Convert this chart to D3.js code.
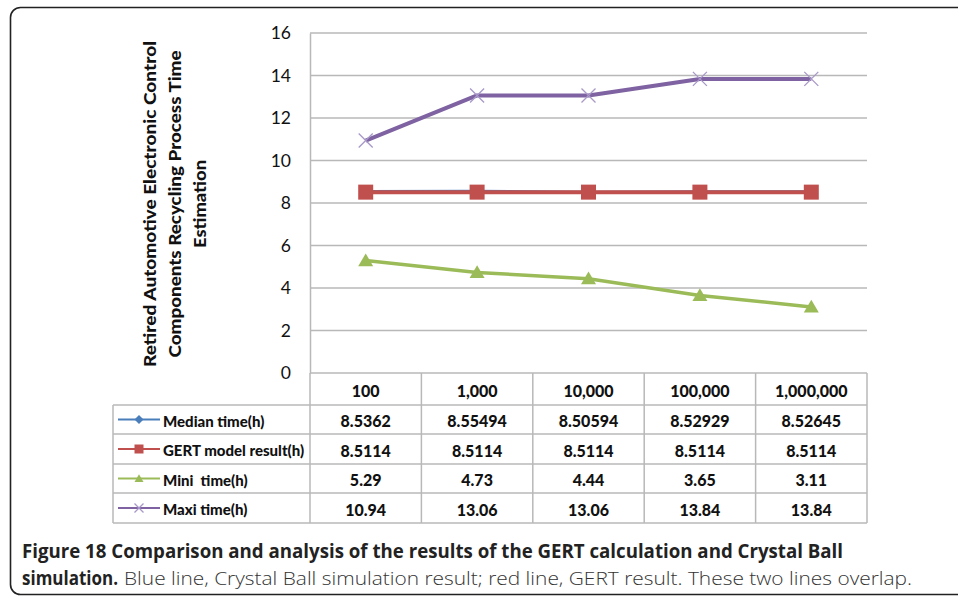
<!DOCTYPE html>
<html><head><meta charset="utf-8">
<script src="https://cdn.jsdelivr.net/npm/d3@7"></script>
<style>
html,body{margin:0;padding:0;background:#fff;}
svg{display:block;}
text{white-space:pre;}
</style></head>
<body>
<svg id="chart" width="958" height="596"></svg>
<script>
// ---- data ----
const categories = ["100", "1,000", "10,000", "100,000", "1,000,000"];
const seriesNames = ["Median time(h)", "GERT model result(h)", "Mini  time(h)", "Maxi time(h)"];
const medianValues = [8.5362, 8.55494, 8.50594, 8.52929, 8.52645];
const gertValues = [8.5114, 8.5114, 8.5114, 8.5114, 8.5114];
const miniValues = [5.29, 4.73, 4.44, 3.65, 3.11];
const maxiValues = [10.94, 13.06, 13.06, 13.84, 13.84];
const medianLabels = ["8.5362", "8.55494", "8.50594", "8.52929", "8.52645"];
const gertLabels = ["8.5114", "8.5114", "8.5114", "8.5114", "8.5114"];
const miniLabels = ["5.29", "4.73", "4.44", "3.65", "3.11"];
const maxiLabels = ["10.94", "13.06", "13.06", "13.84", "13.84"];
const yTicks = [0, 2, 4, 6, 8, 10, 12, 14, 16];
const yTitleLines = ["Retired Automotive Electronic Control", "Components Recycling Process Time", "Estimation"];
const captionBold1 = "Figure 18 Comparison and analysis of the results of the GERT calculation and Crystal Ball";
const captionBold2 = "simulation.";
const captionRegular = "Blue line, Crystal Ball simulation result; red line, GERT result. These two lines overlap.";

// ---- layout ----
const svg = d3.select("#chart");
const plotL = 310, plotR = 867, plotT = 33, plotB = 373;
const tableL = 113;
const rowH = [405, 434, 464, 493, 523];
const gridColor = "#b8b8b8";
const fontMain = "Lato, 'Noto Sans', sans-serif";

const x = d3.scaleBand().domain(categories).range([plotL, plotR]);
const y = d3.scaleLinear().domain([0, 16]).range([plotB, plotT]);

const series = [
  {name: seriesNames[0], values: medianValues, labels: medianLabels, color: "#4a7ebb", marker: "diamond", width: 3},
  {name: seriesNames[1], values: gertValues, labels: gertLabels, color: "#c0504d", marker: "square", width: 4},
  {name: seriesNames[2], values: miniValues, labels: miniLabels, color: "#9bbb59", marker: "triangle", width: 3.5},
  {name: seriesNames[3], values: maxiValues, labels: maxiLabels, color: "#7e62a1", marker: "x", width: 4}
];

// frame
svg.append("rect").attr("x", 10.5).attr("y", 7.5).attr("width", 1000).attr("height", 587)
  .attr("rx", 10).attr("fill", "none").attr("stroke", "#222").attr("stroke-width", 1.6);

// gridlines
svg.append("g").selectAll("line").data(yTicks.filter(d => d > 0)).join("line")
  .attr("x1", plotL).attr("x2", plotR)
  .attr("y1", d => y(d)).attr("y2", d => y(d))
  .attr("stroke", gridColor).attr("stroke-width", 1.5);

// y axis via d3
const yAxis = d3.axisLeft(y).tickValues(yTicks).tickSize(0).tickPadding(19).tickFormat(d3.format("d"));
const gy = svg.append("g").attr("transform", `translate(${plotL},0)`).call(yAxis);
gy.select(".domain").attr("stroke", gridColor).attr("stroke-width", 1.5);
gy.selectAll("text").attr("font-family", fontMain).attr("font-size", 17.5).attr("fill", "#111");

// y title
const yt = svg.append("g").attr("font-family", fontMain).attr("font-weight", 900).attr("font-size", 16.5).attr("fill", "#111");
const titleCenters = [150, 175, 200];
const titleLens = [326, 307, 88];
yTitleLines.forEach((t, i) => {
  yt.append("text").attr("transform", `translate(${titleCenters[i]},204) rotate(-90)`)
    .attr("text-anchor", "middle").attr("dominant-baseline", "central")
    .attr("textLength", titleLens[i]).attr("lengthAdjust", "spacingAndGlyphs").text(t);
});

// table lines
const tg = svg.append("g").attr("stroke", gridColor).attr("stroke-width", 1.5);
tg.append("line").attr("x1", plotL).attr("x2", plotR).attr("y1", plotB).attr("y2", plotB);
rowH.forEach(r => tg.append("line").attr("x1", tableL).attr("x2", plotR).attr("y1", r).attr("y2", r));
tg.append("line").attr("x1", tableL).attr("x2", tableL).attr("y1", rowH[0]).attr("y2", rowH[4]);
tg.append("line").attr("x1", plotL).attr("x2", plotL).attr("y1", plotB).attr("y2", rowH[4]);
categories.forEach(c => {
  const xe = x(c) + x.bandwidth();
  tg.append("line").attr("x1", xe).attr("x2", xe).attr("y1", plotB).attr("y2", rowH[4]);
});

// table text
const tt = svg.append("g").attr("font-family", fontMain).attr("font-weight", 900).attr("font-size", 16).attr("fill", "#111")
  .attr("text-anchor", "middle").attr("dominant-baseline", "central");
categories.forEach(c => tt.append("text").attr("x", x(c) + x.bandwidth() / 2).attr("y", (plotB + rowH[0]) / 2 + 1).text(c));
series.forEach((s, si) => {
  const cy = (rowH[si] + rowH[si + 1]) / 2 + 1;
  s.labels.forEach((l, i) => tt.append("text").attr("x", x(categories[i]) + x.bandwidth() / 2).attr("y", cy).text(l));
});

// marker drawing
function drawMarker(g, type, cx, cy, size, color, light) {
  if (type === "square") {
    g.append("rect").attr("x", cx - size / 2).attr("y", cy - size / 2).attr("width", size).attr("height", size).attr("fill", color);
  } else if (type === "diamond") {
    const h = size / 2;
    g.append("path").attr("d", `M${cx},${cy - h}L${cx + h},${cy}L${cx},${cy + h}L${cx - h},${cy}Z`).attr("fill", color);
  } else if (type === "triangle") {
    const h = size / 2;
    g.append("path").attr("d", `M${cx},${cy - h * 0.95}L${cx + h},${cy + h * 0.75}L${cx - h},${cy + h * 0.75}Z`).attr("fill", color);
  } else if (type === "x") {
    const h = size / 2;
    g.append("path").attr("d", `M${cx - h},${cy - h}L${cx + h},${cy + h}M${cx - h},${cy + h}L${cx + h},${cy - h}`)
      .attr("stroke", light).attr("stroke-width", 1.3).attr("fill", "none");
  }
}

// legend rows
const lg = svg.append("g");
series.forEach((s, si) => {
  const cy = (rowH[si] + rowH[si + 1]) / 2;
  lg.append("line").attr("x1", 118).attr("x2", 160).attr("y1", cy).attr("y2", cy).attr("stroke", s.color).attr("stroke-width", 2);
  drawMarker(lg, s.marker, 139, cy, 9, s.color, "#a898c8");
  lg.append("text").attr("x", 163).attr("y", cy + 1).attr("dominant-baseline", "central")
    .attr("font-family", fontMain).attr("font-weight", 900).attr("font-size", 15).attr("fill", "#111").text(s.name);
});

// lines
const line = d3.line().x((d, i) => x(categories[i]) + x.bandwidth() / 2).y(d => y(d));
const lines = svg.append("g");
series.forEach(s => {
  const g = lines.append("g");
  g.append("path").datum(s.values).attr("d", line).attr("fill", "none").attr("stroke", s.color)
    .attr("stroke-width", s.width).attr("stroke-linejoin", "round");
  s.values.forEach((v, i) => {
    const size = s.marker === "x" ? 14 : s.marker === "triangle" ? 15 : s.marker === "diamond" ? 12 : 15;
    drawMarker(g, s.marker, x(categories[i]) + x.bandwidth() / 2, y(v), size, s.color, "#a898c8");
  });
});

// caption
const cap = svg.append("g").attr("fill", "#222");
cap.append("text").attr("x", 22).attr("y", 558).attr("font-family", "'Open Sans', sans-serif").attr("font-weight", "bold")
  .attr("font-size", 19).attr("textLength", 821).attr("lengthAdjust", "spacingAndGlyphs").text(captionBold1);
cap.append("text").attr("x", 22).attr("y", 585).attr("font-family", "'Open Sans', sans-serif").attr("font-weight", "bold")
  .attr("font-size", 19).attr("textLength", 96).attr("lengthAdjust", "spacingAndGlyphs").text(captionBold2);
cap.append("text").attr("x", 124).attr("y", 585).attr("font-family", "'Open Sans', sans-serif").attr("font-weight", 300)
  .attr("font-size", 19).attr("fill", "#333").attr("textLength", 788).attr("lengthAdjust", "spacingAndGlyphs").text(captionRegular);
</script>
</body></html>
